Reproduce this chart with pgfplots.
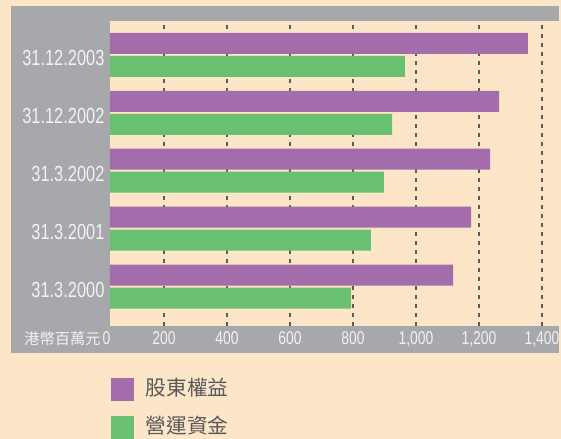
\documentclass[border=0pt]{standalone}
\usepackage{fontspec}
\setmainfont{Liberation Sans}[FakeStretch=0.75]
\newfontfamily\cjk{Noto Sans CJK TC}
\usepackage{pgfplots}
\pgfplotsset{compat=1.18}
\definecolor{peach}{RGB}{253,229,200}
\definecolor{framegray}{RGB}{167,168,172}
\definecolor{barpurple}{RGB}{163,108,170}
\definecolor{bargreen}{RGB}{104,192,112}
\definecolor{labelwhite}{RGB}{242,242,242}
\definecolor{legtext}{RGB}{88,89,91}
\definecolor{gridc}{RGB}{100,90,85}
\begin{document}
\begin{tikzpicture}[x=0.75pt,y=0.75pt]
\useasboundingbox (0,0) rectangle (561,439);
\fill[peach] (0,0) rectangle (561,439);
\fill[framegray] (11,86) rectangle (559,433);
\begin{axis}[
  at={(82.5pt,84.75pt)}, anchor=south west,
  scale only axis, width=336.75pt, height=228.75pt,
  xbar, bar width=15.75pt,
  xmin=28.6, xmax=1454, ymin=-0.68, ymax=4.585,
  axis background/.style={fill=peach},
  axis line style={draw=none},
  major tick length=0pt,
  xtick={200,400,600,800,1000,1200,1400},
  ytick={0,1,2,3,4},
  yticklabels={31.3.2000,31.3.2001,31.3.2002,31.12.2002,31.12.2003},
  /pgf/number format/assume math mode=true,
  /pgf/number format/1000 sep={,},
  xticklabel style={anchor=base, yshift=-14.25pt, inner sep=0pt, text=labelwhite, font=\fontsize{13.9}{16}\selectfont},
  yticklabel style={anchor=base east, yshift=-8.1pt, xshift=-4pt, inner sep=0pt, text=labelwhite, font=\fontsize{16.4}{19}\selectfont},
  xmajorgrids,
  major grid style={gridc, line width=1.1pt, dash pattern=on 3pt off 3.75pt},
  legend style={at={(axis description cs:0.0022,-0.1695)}, anchor=north west,
    draw=none, fill=none, inner sep=0pt, outer sep=0pt, row sep=11.45pt, column sep=9pt,
    nodes={inner sep=0pt, text height=9pt, text depth=1pt, text=legtext, font=\cjk\fontsize{15.5}{18}\selectfont}},
  legend cell align=left,
]
\addplot[draw=none, fill=barpurple, bar shift=8.625pt,
  legend image code/.code={\fill[barpurple] (0pt,-7.95pt) rectangle (17.25pt,9.3pt);}]
  coordinates {(1118,0) (1175,1) (1235,2) (1264,3) (1355,4)};
\addlegendentry{股東權益}
\addplot[draw=none, fill=bargreen, bar shift=-8.625pt,
  legend image code/.code={\fill[bargreen] (0pt,-7.95pt) rectangle (17.25pt,9.3pt);}]
  coordinates {(794,0) (857,1) (898,2) (924,3) (965,4)};
\addlegendentry{營運資金}
\end{axis}
\node[anchor=base east, inner sep=0pt, text=labelwhite] at (110.7,94)
  {{\cjk\fontsize{11.4}{13}\selectfont 港幣百萬元}\,\fontsize{13.9}{16}\selectfont 0};
\end{tikzpicture}
\end{document}
